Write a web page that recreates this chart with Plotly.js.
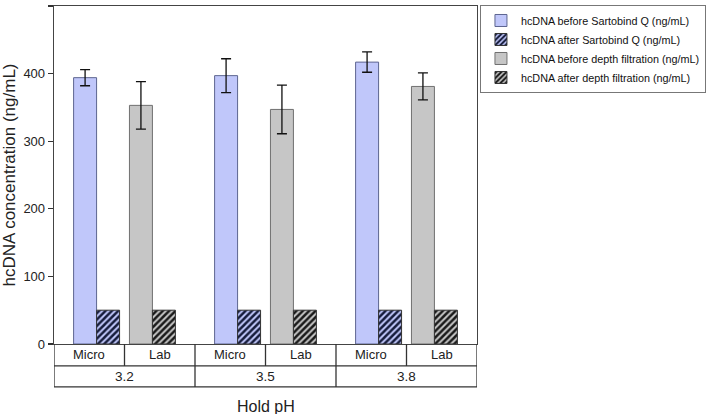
<!DOCTYPE html>
<html>
<head>
<meta charset="utf-8">
<script src="https://cdn.plot.ly/plotly-3.0.1.min.js"></script>
<style>html,body{margin:0;padding:0;background:#fff;}#chart{width:709px;height:414px;}</style>
</head>
<body>
<div id="chart"></div>
<script>
// ---- data ----
const scaleLabels = ["Micro", "Lab", "Micro", "Lab", "Micro", "Lab"];
const holdPH = ["3.2", "3.5", "3.8"];
const microIdx = [0, 2, 4];
const labIdx = [1, 3, 5];
const beforeSartobind = [394, 397, 417];
const beforeSartobindErr = [12, 25, 15];
const afterSartobind = [50, 50, 50];
const beforeDepth = [353, 347, 381];
const beforeDepthErr = [35, 36, 20];
const afterDepth = [50, 50, 50];
const seriesNames = [
  "hcDNA before Sartobind Q (ng/mL)",
  "hcDNA after Sartobind Q (ng/mL)",
  "hcDNA before depth filtration (ng/mL)",
  "hcDNA after depth filtration (ng/mL)"
];

const FONT = "Liberation Sans, Arial, sans-serif";
const BLUE = "#c0c7fa", GRAY = "#c6c6c6";
const W = 0.326;
const errStyle = {type: "data", visible: true, color: "#111", thickness: 1.3, width: 5};

const traces = [
  {type: "bar", name: seriesNames[0], x: microIdx, y: beforeSartobind,
   error_y: Object.assign({array: beforeSartobindErr}, errStyle),
   offset: -0.222, width: W,
   marker: {color: BLUE, line: {color: "#5d6590", width: 1}}},
  {type: "bar", name: seriesNames[1], x: microIdx, y: afterSartobind,
   offset: -0.222 + W, width: W,
   marker: {color: BLUE, line: {color: "#333", width: 1},
            pattern: {shape: "/", fgcolor: "#161c3c", bgcolor: BLUE, size: 4.5, solidity: 0.55}}},
  {type: "bar", name: seriesNames[2], x: labIdx, y: beforeDepth,
   error_y: Object.assign({array: beforeDepthErr}, errStyle),
   offset: -0.43, width: W,
   marker: {color: GRAY, line: {color: "#707070", width: 1}}},
  {type: "bar", name: seriesNames[3], x: labIdx, y: afterDepth,
   offset: -0.43 + W, width: W,
   marker: {color: GRAY, line: {color: "#333", width: 1},
            pattern: {shape: "/", fgcolor: "#1a1a1a", bgcolor: GRAY, size: 4.5, solidity: 0.55}}}
];

// ---- category table below the axis ----
const row1 = -0.065, row2 = -0.127;
const lineStyle = {color: "#333", width: 1.3};
const shapes = [];
const annotations = [];
const n = scaleLabels.length;
const perGroup = n / holdPH.length;
for (let i = 0; i <= n; i++) {
  const isGroupEdge = i % perGroup === 0;
  shapes.push({type: "line", xref: "x", yref: "paper", x0: i - 0.5, x1: i - 0.5,
               y0: 0, y1: isGroupEdge ? row2 : row1, line: lineStyle});
}
shapes.push({type: "line", xref: "x", yref: "paper", x0: -0.5, x1: n - 0.5, y0: row1, y1: row1, line: lineStyle});
shapes.push({type: "line", xref: "x", yref: "paper", x0: -0.5, x1: n - 0.5, y0: row2, y1: row2, line: lineStyle});
scaleLabels.forEach((t, i) => {
  annotations.push({xref: "x", yref: "paper", x: i, y: row1 / 2, text: t, showarrow: false,
                    xanchor: "center", yanchor: "middle", font: {family: FONT, size: 13, color: "#222"}});
});
holdPH.forEach((t, g) => {
  annotations.push({xref: "x", yref: "paper", x: g * perGroup + (perGroup - 1) / 2, y: (row1 + row2) / 2,
                    text: t, showarrow: false, xanchor: "center", yanchor: "middle",
                    font: {family: FONT, size: 13.5, color: "#222"}});
});
annotations.push({xref: "paper", yref: "paper", x: 0.5, y: -0.185, text: "Hold pH", showarrow: false,
                  xanchor: "center", yanchor: "middle", font: {family: FONT, size: 16, color: "#222"}});

const layout = {
  width: 709, height: 414,
  margin: {l: 54, r: 232, t: 6, b: 70, autoexpand: false},
  paper_bgcolor: "#fff", plot_bgcolor: "#fff",
  barmode: "overlay",
  font: {family: FONT, color: "#222"},
  showlegend: true,
  legend: {x: 1.007, y: 1.003, xanchor: "left", yanchor: "top", bgcolor: "#fff",
           bordercolor: "#777", borderwidth: 1, traceorder: "normal",
           font: {family: FONT, size: 10.8, color: "#111"}},
  xaxis: {range: [-0.5, n - 0.5], showticklabels: false, ticks: "", showgrid: false, zeroline: false,
          showline: true, mirror: true, linecolor: "#444", linewidth: 1.3, fixedrange: true},
  yaxis: {range: [0, 500], dtick: 100, ticks: "outside", ticklen: 5, tickwidth: 1.2, tickcolor: "#333",
          showgrid: false, zeroline: false, showline: true, mirror: true, linecolor: "#444", linewidth: 1.3,
          tickfont: {family: FONT, size: 13, color: "#222"},
          title: {text: "hcDNA concentration (ng/mL)", font: {family: FONT, size: 17, color: "#222"}, standoff: 8},
          automargin: false},
  shapes: shapes,
  annotations: annotations
};

Plotly.newPlot("chart", traces, layout, {displayModeBar: false, staticPlot: true});
</script>
</body>
</html>
